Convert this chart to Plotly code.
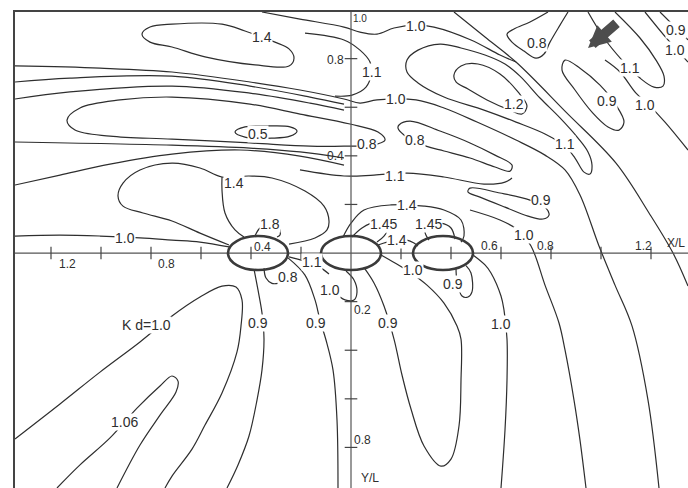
import plotly.graph_objects as go

# ---- contour lines of the diffraction coefficient Kd (x = X/L, y = Y/L, y positive downward)
top_loop_14 = [(-0.836, -0.901), (-0.804, -0.930), (-0.716, -0.942), (-0.516, -0.942), (-0.424, -0.914),
               (-0.304, -0.868), (-0.248, -0.840), (-0.228, -0.802), (-0.248, -0.770), (-0.384, -0.774),
               (-0.584, -0.807), (-0.716, -0.848), (-0.804, -0.868), (-0.836, -0.901)]
top_10 = [(-0.356, -0.992), (-0.204, -0.963), (-0.028, -0.930), (0.036, -0.909), (0.104, -0.901),
          (0.172, -0.926), (0.26, -0.938), (0.332, -0.930), (0.48, -0.877), (0.596, -0.815), (0.66, -0.786)]
loop_11_axis = [(-0.184, -0.905), (-0.028, -0.877), (0.036, -0.835), (0.076, -0.786), (0.08, -0.733),
                (0.06, -0.683), (0.004, -0.650), (-0.064, -0.646)]
band_10 = [(-1.344, -0.770), (-1.004, -0.761), (-0.716, -0.745), (-0.404, -0.704), (-0.204, -0.671),
           (-0.028, -0.634), (0.036, -0.617), (0.104, -0.630), (0.26, -0.630), (0.372, -0.597),
           (0.504, -0.539), (0.66, -0.465), (0.776, -0.403), (0.856, -0.342), (0.916, -0.239),
           (0.992, -0.029), (1.056, 0.132), (1.124, 0.300), (1.188, 0.605), (1.232, 0.967)]
band_b = [(-1.344, -0.704), (-1.124, -0.720), (-0.716, -0.728), (-0.404, -0.687), (-0.164, -0.642), (-0.028, -0.613)]
band_c = [(-1.344, -0.634), (-1.124, -0.663), (-0.716, -0.687), (-0.404, -0.658), (-0.164, -0.617), (-0.028, -0.588)]
loop_long_08 = [(-0.716, -0.642), (-0.924, -0.630), (-1.084, -0.597), (-1.136, -0.547), (-1.104, -0.506),
                (-0.964, -0.481), (-0.716, -0.469), (-0.404, -0.453), (-0.164, -0.440), (-0.028, -0.440),
                (0.084, -0.444), (0.136, -0.465), (0.108, -0.498), (-0.004, -0.531), (-0.204, -0.572),
                (-0.404, -0.613), (-0.716, -0.642)]
loop_05 = [(-0.464, -0.498), (-0.424, -0.519), (-0.324, -0.523), (-0.244, -0.519), (-0.216, -0.502),
           (-0.244, -0.481), (-0.316, -0.473), (-0.424, -0.477), (-0.464, -0.498)]
band_d = [(-1.344, -0.457), (-0.716, -0.444), (-0.404, -0.432), (-0.204, -0.416), (-0.028, -0.391)]
band_e = [(-1.344, -0.280), (-1.164, -0.321), (-0.964, -0.366), (-0.716, -0.407), (-0.444, -0.424),
          (-0.204, -0.399), (-0.028, -0.362)]
line_11 = [(-0.204, -0.342), (-0.028, -0.317), (0.092, -0.321), (0.224, -0.329), (0.372, -0.313),
           (0.532, -0.284), (0.616, -0.292), (0.644, -0.309)]
loop_08a = [(0.192, -0.527), (0.236, -0.543), (0.356, -0.502), (0.476, -0.453), (0.576, -0.403),
            (0.644, -0.362), (0.636, -0.337), (0.576, -0.354), (0.476, -0.391), (0.372, -0.420),
            (0.30, -0.440), (0.212, -0.486), (0.188, -0.514), (0.192, -0.527)]
outer_11 = [(0.224, -0.794), (0.268, -0.835), (0.356, -0.860), (0.44, -0.844), (0.536, -0.815),
            (0.616, -0.778), (0.676, -0.728), (0.756, -0.638), (0.836, -0.556), (0.908, -0.473),
            (0.948, -0.416), (0.964, -0.362), (0.956, -0.325), (0.932, -0.333), (0.896, -0.391),
            (0.856, -0.440), (0.776, -0.490), (0.66, -0.539), (0.532, -0.588), (0.372, -0.642),
            (0.268, -0.700), (0.224, -0.745), (0.224, -0.794)]
loop_12 = [(0.412, -0.733), (0.44, -0.770), (0.508, -0.778), (0.596, -0.737), (0.668, -0.663),
           (0.704, -0.605), (0.684, -0.572), (0.636, -0.588), (0.544, -0.630), (0.468, -0.675),
           (0.42, -0.704), (0.412, -0.733)]
loop_08b = [(0.788, -0.992), (0.716, -0.951), (0.652, -0.922), (0.624, -0.901), (0.644, -0.868),
            (0.692, -0.831), (0.74, -0.802), (0.772, -0.819), (0.796, -0.868), (0.836, -0.938), (0.868, -0.992)]
loop_09a = [(0.856, -0.794), (0.916, -0.761), (0.996, -0.691), (1.06, -0.609), (1.092, -0.539),
            (1.072, -0.506), (1.028, -0.519), (0.964, -0.580), (0.896, -0.671), (0.844, -0.753), (0.856, -0.794)]
loop_11b = [(1.056, -0.992), (1.156, -0.885), (1.22, -0.794), (1.252, -0.728), (1.248, -0.687),
            (1.212, -0.683), (1.156, -0.720), (1.084, -0.794), (1.012, -0.885), (0.948, -0.992)]
line_10r = [(1.016, -0.794), (1.076, -0.745), (1.14, -0.658), (1.188, -0.613), (1.256, -0.539), (1.348, -0.424)]
corner_10 = [(1.176, -0.992), (1.268, -0.877), (1.348, -0.786)]
corner_09 = [(1.236, -0.992), (1.348, -0.877)]
diag_a = [(0.412, -0.992), (0.536, -0.889), (0.66, -0.786), (0.86, -0.580), (1.06, -0.370),
          (1.192, -0.165), (1.288, 0.0), (1.348, 0.136)]
loop_09b = [(0.476, -0.267), (0.596, -0.247), (0.716, -0.218), (0.78, -0.185), (0.792, -0.156),
            (0.768, -0.140), (0.708, -0.152), (0.616, -0.189), (0.516, -0.230), (0.468, -0.251), (0.476, -0.267)]
far_10 = [(0.476, -0.177), (0.596, -0.136), (0.668, -0.095), (0.72, -0.029), (0.776, 0.132), (0.832, 0.288),
          (0.856, 0.399), (0.892, 0.605), (0.916, 0.770), (0.94, 0.967)]
left_10 = [(-1.344, -0.070), (-1.164, -0.074), (-1.004, -0.070), (-0.844, -0.062), (-0.716, -0.053),
           (-0.604, -0.045), (-0.488, -0.025)]
loop_14 = [(-0.488, -0.033), (-0.604, -0.082), (-0.716, -0.132), (-0.832, -0.165), (-0.912, -0.193),
           (-0.932, -0.235), (-0.912, -0.288), (-0.844, -0.342), (-0.716, -0.370), (-0.604, -0.350),
           (-0.516, -0.313), (-0.408, -0.317), (-0.316, -0.309), (-0.184, -0.255), (-0.108, -0.193),
           (-0.088, -0.132), (-0.096, -0.095), (-0.144, -0.062), (-0.248, -0.037)]
branch_14 = [(-0.516, -0.313), (-0.516, -0.259), (-0.504, -0.165), (-0.464, -0.095), (-0.428, -0.066)]
arch_18 = [(-0.384, -0.070), (-0.364, -0.103), (-0.324, -0.119), (-0.288, -0.103), (-0.284, -0.074), (-0.296, -0.066)]
arch_14 = [(-0.032, -0.066), (0.0, -0.123), (0.052, -0.177), (0.16, -0.198), (0.292, -0.193),
           (0.372, -0.177), (0.44, -0.136), (0.452, -0.070), (0.44, -0.045)]
arch_145a = [(0.004, -0.066), (0.044, -0.103), (0.10, -0.128), (0.156, -0.111), (0.132, -0.070), (0.104, -0.045)]
link_14 = [(0.108, -0.033), (0.144, -0.045), (0.184, -0.053), (0.224, -0.053), (0.252, -0.041), (0.268, -0.029)]
arch_145b = [(0.312, -0.053), (0.296, -0.086), (0.304, -0.119), (0.36, -0.123), (0.40, -0.103), (0.416, -0.057)]
kd_10 = [(-1.344, 0.765), (-1.164, 0.621), (-1.004, 0.490), (-0.844, 0.366), (-0.716, 0.259),
         (-0.604, 0.181), (-0.516, 0.136), (-0.46, 0.140), (-0.436, 0.193), (-0.44, 0.300),
         (-0.456, 0.407), (-0.516, 0.576), (-0.584, 0.708), (-0.636, 0.807), (-0.716, 0.918), (-0.744, 0.967)]
loop_106 = [(-1.176, 0.967), (-1.084, 0.872), (-0.964, 0.761), (-0.856, 0.638), (-0.764, 0.547),
            (-0.716, 0.506), (-0.692, 0.527), (-0.70, 0.572), (-0.764, 0.667), (-0.844, 0.790), (-0.936, 0.967)]
left_09 = [(-0.388, 0.066), (-0.372, 0.152), (-0.356, 0.247), (-0.348, 0.354), (-0.356, 0.481),
           (-0.376, 0.605), (-0.408, 0.753), (-0.452, 0.872), (-0.496, 0.967)]
mid_09 = [(-0.252, 0.020), (-0.184, 0.091), (-0.144, 0.193), (-0.124, 0.276), (-0.10, 0.358),
          (-0.072, 0.481), (-0.056, 0.687), (-0.052, 0.967)]
u_08 = [(-0.348, 0.062), (-0.34, 0.103), (-0.316, 0.125), (-0.292, 0.125)]
line_11b = [(-0.248, 0.016), (-0.188, 0.033), (-0.128, 0.057), (-0.088, 0.086)]
loop_10c = [(-0.02, 0.074), (0.012, 0.111), (0.024, 0.160), (0.012, 0.193), (-0.024, 0.193), (-0.044, 0.181)]
u_09 = [(0.052, 0.060), (0.092, 0.123), (0.132, 0.218), (0.172, 0.354), (0.204, 0.502), (0.24, 0.642),
        (0.292, 0.794), (0.36, 0.877), (0.40, 0.848), (0.432, 0.712), (0.44, 0.523), (0.44, 0.354),
        (0.424, 0.300), (0.372, 0.206), (0.304, 0.132), (0.24, 0.082), (0.176, 0.041), (0.12, 0.008)]
hook_09 = [(0.42, 0.064), (0.424, 0.115), (0.444, 0.177), (0.468, 0.181), (0.484, 0.160), (0.48, 0.082), (0.46, 0.052)]
right_10 = [(0.488, 0.008), (0.536, 0.049), (0.56, 0.082), (0.60, 0.177), (0.612, 0.235), (0.624, 0.354),
            (0.624, 0.523), (0.616, 0.728), (0.60, 0.967)]

contour_lines = [top_loop_14, top_10, loop_11_axis, band_10, band_b, band_c, loop_long_08, loop_05, band_d,
                 band_e, line_11, loop_08a, outer_11, loop_12, loop_08b, loop_09a, loop_11b, line_10r,
                 corner_10, corner_09, diag_a, loop_09b, far_10, left_10, loop_14, branch_14, arch_18,
                 arch_14, arch_145a, link_14, arch_145b, kd_10, loop_106, left_09, mid_09, u_08, line_11b,
                 loop_10c, u_09, hook_09, right_10]

# ---- contour labels
label_text = ["1.4", "1.0", "1.1", "1.0", "0.5", "0.8", "1.1", "0.8", "1.1", "1.2", "0.8", "0.9", "1.1",
              "1.0", "1.0", "0.9", "0.9", "1.0",
              "1.4", "1.8", "1.0", "1.4", "1.45", "1.4", "1.45",
              "K d=1.0", "1.06", "0.9", "0.9", "0.8", "1.1", "1.0", "0.9", "1.0", "0.9", "1.0"]
label_x = [-0.356, 0.26, 0.084, 0.18, -0.372, 0.064, 0.176, 0.256, 0.856, 0.652, 0.744, 1.024, 1.116,
           1.176, 1.296, 1.30, 0.76, 0.692,
           -0.468, -0.324, -0.904, 0.224, 0.128, 0.184, 0.308,
           -0.82, -0.908, -0.372, -0.14, -0.252, -0.156, -0.084, 0.148, 0.248, 0.408, 0.60]
label_y = [-0.889, -0.934, -0.745, -0.634, -0.490, -0.449, -0.317, -0.465, -0.449, -0.613, -0.864, -0.626,
           -0.761, -0.609, -0.835, -0.918, -0.218, -0.074,
           -0.288, -0.119, -0.062, -0.198, -0.119, -0.053, -0.119,
           0.296, 0.695, 0.288, 0.288, 0.099, 0.037, 0.152, 0.288, 0.070, 0.128, 0.292]

# ---- the three elliptical bodies
body_x = [-0.372, 0.0, 0.368]
body_half_len = 0.12
body_half_wid = 0.07

# ---- axis ticks and tick labels
x_ticks = [-1.2, -1.0, -0.8, -0.6, -0.4, -0.2, 0.2, 0.4, 0.6, 0.8, 1.0, 1.2]
y_ticks = [-1.0, -0.8, -0.6, -0.4, -0.2, 0.2, 0.4, 0.6, 0.8]
axis_label_text = ["1.2", "0.8", "0.4", "0.6", "0.8", "1.2", "X/L", "0.4", "0.8", "1.0", "0.2", "0.8", "Y/L"]
axis_label_x = [-1.136, -0.74, -0.356, 0.552, 0.776, 1.168, 1.30, -0.062, -0.062, 0.034, 0.046, 0.046, 0.074]
axis_label_y = [0.045, 0.045, -0.025, -0.029, -0.029, -0.029, -0.041, -0.399, -0.794, -0.967, 0.235, 0.770, 0.926]

INK = "#2e2e2e"
fig = go.Figure()

for pts in contour_lines:
    fig.add_trace(go.Scatter(x=[p[0] for p in pts], y=[p[1] for p in pts], mode="lines",
                             line=dict(color=INK, width=1.2, shape="spline", smoothing=1.0),
                             hoverinfo="skip", showlegend=False))

# cross axes through the origin
fig.add_trace(go.Scatter(x=[-1.344, 1.348], y=[0, 0], mode="lines", line=dict(color="#555", width=1.2),
                         hoverinfo="skip", showlegend=False))
fig.add_trace(go.Scatter(x=[0, 0], y=[-0.992, 0.967], mode="lines", line=dict(color="#555", width=1.2),
                         hoverinfo="skip", showlegend=False))
fig.add_trace(go.Scatter(x=x_ticks, y=[0] * len(x_ticks), mode="markers",
                         marker=dict(symbol="line-ns", size=9, line=dict(color="#444", width=1.2)),
                         hoverinfo="skip", showlegend=False))
fig.add_trace(go.Scatter(x=[0] * len(y_ticks), y=y_ticks, mode="markers",
                         marker=dict(symbol="line-ew", size=9, line=dict(color="#444", width=1.2)),
                         hoverinfo="skip", showlegend=False))

for bx in body_x:
    fig.add_shape(type="circle", xref="x", yref="y",
                  x0=bx - body_half_len, x1=bx + body_half_len,
                  y0=-body_half_wid, y1=body_half_wid,
                  line=dict(color="#3a3a3a", width=2.6), fillcolor="rgba(0,0,0,0)")

for t, lx, ly in zip(label_text, label_x, label_y):
    fig.add_annotation(x=lx, y=ly, text=t, showarrow=False, bgcolor="white", borderpad=0,
                       font=dict(family="Liberation Sans", size=14, color=INK))

for t, lx, ly in zip(axis_label_text, axis_label_x, axis_label_y):
    small = t == "1.0"
    fig.add_annotation(x=lx, y=ly, text=t, showarrow=False,
                       font=dict(family="Liberation Sans", size=10 if small else 12, color=INK))

# wave direction arrow
fig.add_annotation(x=0.948, y=-0.844, ax=30, ay=-26, text="", showarrow=True,
                   arrowhead=2, arrowsize=0.44, arrowwidth=10, arrowcolor="#4d4d4d")

fig.update_layout(
    width=688, height=488, margin=dict(l=15, r=0, t=12, b=0),
    paper_bgcolor="white", plot_bgcolor="white", showlegend=False,
    xaxis=dict(range=[-1.344, 1.348], showgrid=False, zeroline=False, showticklabels=False,
               showline=True, linecolor="#444", linewidth=2, side="top", mirror=False, ticks=""),
    yaxis=dict(range=[0.967, -0.992], showgrid=False, zeroline=False, showticklabels=False,
               showline=True, linecolor="#444", linewidth=2, mirror=False, ticks=""),
)

fig.write_html("out.html")
